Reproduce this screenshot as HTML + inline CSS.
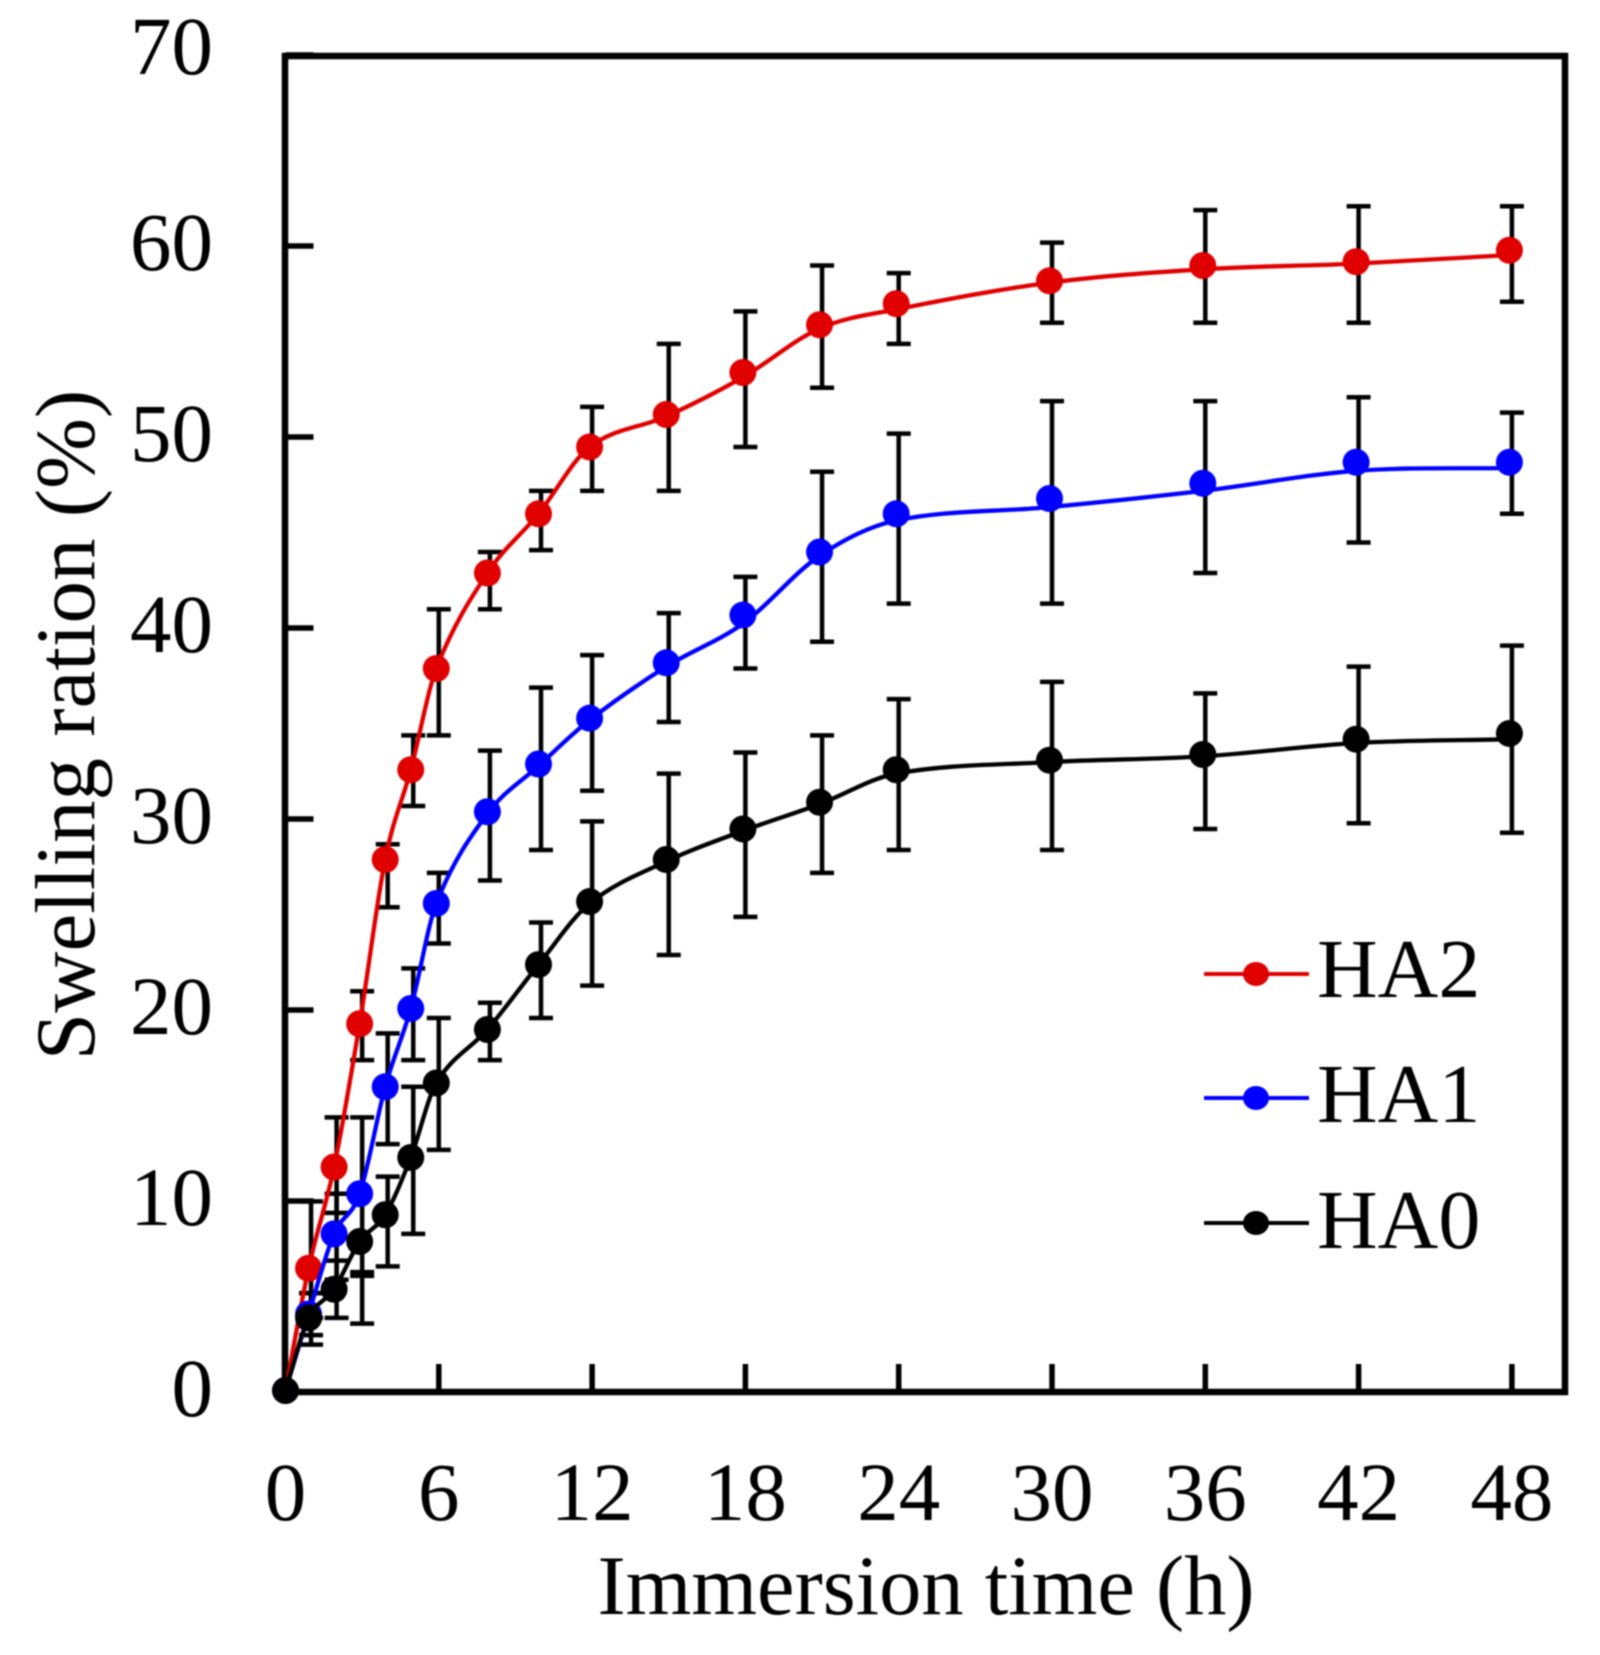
<!DOCTYPE html>
<html>
<head>
<meta charset="utf-8">
<title>Swelling ration chart</title>
<style>
html,body{margin:0;padding:0;background:#fff;width:1600px;height:1655px;overflow:hidden}
svg{display:block;filter:blur(0.9px)}
text{font-family:"Liberation Serif",serif;fill:#000}
</style>
</head>
<body>
<svg id="chart" xmlns="http://www.w3.org/2000/svg" width="1600" height="1655" viewBox="0 0 1600 1655">
  <rect x="0" y="0" width="1600" height="1655" fill="#fff"/>
  <g id="bars"></g>
  <rect x="285" y="56" width="1280" height="1336" fill="none" stroke="#000" stroke-width="6.5"/>
  <g id="axes"></g>
  <g id="marks"></g>
  <text x="926" y="1614" font-size="84.5" text-anchor="middle">Immersion time (h)</text>
  <text transform="translate(94,725) rotate(-90)" font-size="85" text-anchor="middle">Swelling ration (%)</text>
  <g>
    <g>
      <line x1="1204" x2="1309" y1="974" y2="974" stroke="#e00000" stroke-width="4"/>
      <ellipse cx="1256" cy="974" rx="13" ry="12" fill="#e00000"/>
      <text x="1317" y="997" font-size="84">HA2</text>
    </g>
    <g>
      <line x1="1204" x2="1309" y1="1098" y2="1098" stroke="#0000ff" stroke-width="4"/>
      <ellipse cx="1256" cy="1098" rx="13" ry="12" fill="#0000ff"/>
      <text x="1317" y="1122" font-size="84">HA1</text>
    </g>
    <g>
      <line x1="1204" x2="1309" y1="1223" y2="1223" stroke="#000" stroke-width="4"/>
      <ellipse cx="1256" cy="1223" rx="13" ry="12" fill="#000"/>
      <text x="1317" y="1248" font-size="84">HA0</text>
    </g>
  </g>
</svg>
<script>
const times = [0,1,2,3,4,5,6,8,10,12,15,18,21,24,30,36,42,48];
const xTickLabels = [0,6,12,18,24,30,36,42,48];
const yTickLabels = [0,10,20,30,40,50,60,70];

const ha2Values = [0,6.4,11.7,19.2,27.8,32.5,37.8,42.8,45.9,49.4,51.1,53.3,55.8,56.9,58.1,58.9,59.1,59.7];
const ha2Upper  = [0,9.9,14.3,20.9,28.6,34.3,40.9,43.9,47.1,51.5,54.8,56.5,58.9,58.5,60.1,61.8,62,62];
const ha2Lower  = [0,3.8,9.3,17.3,25.3,30.6,34.3,40.9,44,47.1,47.1,49.4,52.5,54.8,55.9,55.9,55.9,57];
const ha2Sag    = [0,0,0,0,0,0,0,0,0,0,0.1,0.25,0.2,0.3,0.1,0.2,0.1,0.25];

const ha1Values = [0,4,8.2,10.3,15.9,20,25.5,30.3,32.8,35.2,38.1,40.6,43.9,45.9,46.7,47.5,48.6,48.6];
const ha1Upper  = [0,5.1,10.3,14.3,18.7,22.1,27.1,33.5,36.8,38.5,40.7,42.6,48.1,50.1,51.8,51.8,52,51.2];
const ha1Lower  = [0,2.9,5.8,6.2,12.9,17.3,23.4,26.7,28.3,31.4,35,37.8,39.2,41.2,41.2,42.8,44.4,45.9];
const ha1Sag    = [0,0,0,0,0,0,0,0.1,0.1,0.1,0.2,0.45,0.2,0.35,0.45,0.4,0.45,0.3];

const ha0Values = [0,3.8,5.3,7.8,9.2,12.2,16.1,18.9,22.3,25.6,27.8,29.4,30.8,32.5,33,33.3,34.1,34.4];
const ha0Upper  = [0,5.1,6.8,6,11.2,15.9,19.5,20.3,24.5,29.8,32.3,33.4,34.3,36.2,37.1,36.5,37.9,39];
const ha0Lower  = [0,2.4,3.8,3.5,6.5,8.2,12.6,17.3,19.5,21.2,22.8,24.8,27.1,28.3,28.3,29.4,29.7,29.2];
const ha0Sag    = [0,0,0,0,0,0,0,0,0,0.1,0.1,0.1,0.1,0.2,0.1,0.1,0.2,0.3];

const NS = 'http://www.w3.org/2000/svg';
const x0 = 285.5, xPerHour = 25.55;
const y0 = 1392, yPerUnit = 19.1;
const markerShift = 2.5;
const markerLift = 1.5;
function xScale(t){ return x0 + t * xPerHour; }
function yScale(v){ return y0 - v * yPerUnit; }
function xMark(t){ return t === 0 ? xScale(t) : xScale(t) - markerShift; }

function make(tag, parent){
  const el = document.createElementNS(NS, tag);
  parent.appendChild(el);
  return el;
}
function setAttrs(el, pairs){
  for (const k in pairs) el.setAttribute(k, pairs[k]);
}

const axes = document.getElementById('axes');
const bars = document.getElementById('bars');
const marks = document.getElementById('marks');

xTickLabels.forEach(function(t){
  const tick = make('line', axes);
  
  
  setAttrs(tick, {x1:xScale(t), x2:xScale(t), y1:y0, y2:y0-28, stroke:'#000', 'stroke-width':5.5});
  const label = make('text', axes);
  
  
  setAttrs(label, {x:xScale(t), y:1520, 'font-size':83, 'text-anchor':'middle'});
  label.textContent = t;
});

yTickLabels.forEach(function(v){
  const tick = make('line', axes);
  
  
  setAttrs(tick, {x1:x0, x2:x0+28, y1:yScale(v), y2:yScale(v), stroke:'#000', 'stroke-width':5.5});
  const label = make('text', axes);
  
  
  setAttrs(label, {x:213, y:yScale(v)+(v === 70 ? 19 : 24), 'font-size':83, 'text-anchor':'end'});
  label.textContent = v;
});

function smoothPath(xs, ys){
  let d = 'M' + xs[0].toFixed(1) + ' ' + ys[0].toFixed(1);
  for (let i = 0; i < xs.length - 1; i++){
    const a = Math.max(i - 1, 0), b = Math.min(i + 2, xs.length - 1);
    const h = xs[i+1] - xs[i];
    const m1 = (ys[i+1] - ys[a]) / (xs[i+1] - xs[a]);
    const m2 = (ys[b] - ys[i]) / (xs[b] - xs[i]);
    d += 'C' + (xs[i] + h/3).toFixed(1) + ' ' + (ys[i] + m1*h/3).toFixed(1) + ' ' +
         (xs[i+1] - h/3).toFixed(1) + ' ' + (ys[i+1] - m2*h/3).toFixed(1) + ' ' +
         xs[i+1].toFixed(1) + ' ' + ys[i+1].toFixed(1);
  }
  return d;
}

function drawBars(upper, lower){
  times.forEach(function(t, i){
    if (t === 0) return;
    const x = xScale(t), yU = yScale(upper[i]) - markerLift, yL = yScale(lower[i]) - markerLift;
    const bar = make('path', bars);
    
    
    setAttrs(bar, {
      d:'M'+(x-12)+' '+yU+'H'+(x+12)+'M'+x+' '+yU+'V'+yL+'M'+(x-12)+' '+yL+'H'+(x+12),
      fill:'none', stroke:'#000', 'stroke-width':4.5
    });
  });
}

function drawLine(values, sag, color, name){
  const xs = times.map(xMark);
  const ys = values.map(function(v, i){ return yScale(v - sag[i]) - markerLift; });
  const line = make('path', marks);
  
  
  setAttrs(line, {d:smoothPath(xs, ys), fill:'none', stroke:color, 'stroke-width':4.3});
}

function drawPoints(values, color, name){
  times.forEach(function(t, i){
    const dot = make('circle', marks);
    
    
    setAttrs(dot, {cx:xMark(t), cy:yScale(values[i]) - markerLift, r:13.5, fill:color});
  });
}

drawBars(ha2Upper, ha2Lower);
drawBars(ha1Upper, ha1Lower);
drawBars(ha0Upper, ha0Lower);
drawLine(ha2Values, ha2Sag, '#e00000', 'ha2');
drawPoints(ha2Values, '#e00000', 'ha2');
drawLine(ha1Values, ha1Sag, '#0000ff', 'ha1');
drawPoints(ha1Values, '#0000ff', 'ha1');
drawLine(ha0Values, ha0Sag, '#000000', 'ha0');
drawPoints(ha0Values, '#000000', 'ha0');
</script>
</body>
</html>
